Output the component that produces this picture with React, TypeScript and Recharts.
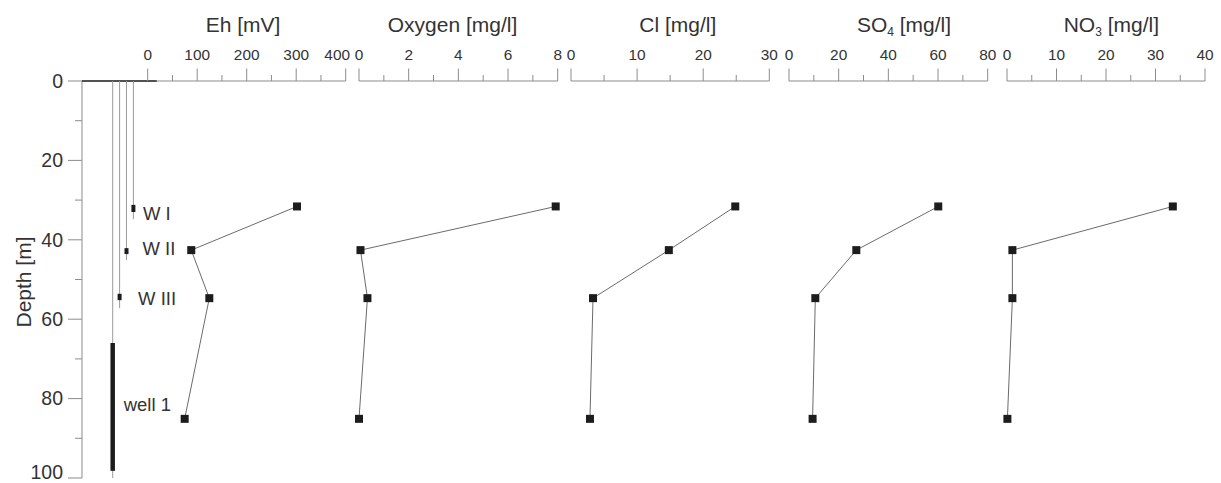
import { ScatterChart, Scatter, XAxis, YAxis } from "recharts";

const FONT = "'Liberation Sans', Arial, sans-serif";
const AXIS_GRAY = "#8c8c8c";
const TEXT = "#333";
const LINE_GRAY = "#6a6a6a";
const MARK = "#1c1c1c";

// sampling depths [m]: W I, W II, W III, well 1
const depths = [31.6, 42.6, 54.7, 85.1];
const ehValues = [301.6, 88, 124.5, 74.7];
const oxygenValues = [7.92, 0.06, 0.34, 0.0];
const clValues = [24.85, 14.8, 3.33, 2.87];
const so4Values = [60.1, 27.1, 10.6, 9.5];
const no3Values = [33.5, 1.09, 1.09, 0.08];

const depthTicks = [0, 10, 20, 30, 40, 50, 60, 70, 80, 90, 100];
const ehTicks = [0, 50, 100, 150, 200, 250, 300, 350, 400];
const oxygenTicks = [0, 1, 2, 3, 4, 5, 6, 7, 8];
const clTicks = [0, 5, 10, 15, 20, 25, 30];
const so4Ticks = [0, 10, 20, 30, 40, 50, 60, 70, 80];
const no3Ticks = [0, 5, 10, 15, 20, 25, 30, 35, 40];

// well sketch: W I, W II, W III, well 1
const wellNames = ["W I", "W II", "W III", "well 1"];
const wellSlots = [3, 2, 1, 0];
const wellBottoms = [34.8, 45.1, 57.2, 100];
const filterTops = [31.2, 42.1, 53.6, 66];
const filterBottoms = [33.0, 43.6, 55.2, 98.2];
const groundSurface = [-4.45, 6.38];

// label offsets next to the filters (px)
const labelDx = [9.5, 16, 18.5, 11];
const labelDy = [4.6, -3, 1.4, -2];

const rows = (values: number[]) => values.map((v, i) => ({ v, d: depths[i] }));

const CHART_H = 483;
const AXIS_H = 81;
const PAD = 15;

const DepthTick = (props: any) => {
	const { x, y, payload } = props;
	const major = payload.value % 20 === 0;
	// the last label is nudged up so it stays inside the picture
	const shift = payload.value === 100 ? -6 : 0;
	return (
		<g>
			<line x1={x - (major ? 14 : 7)} x2={x} y1={y} y2={y} stroke={AXIS_GRAY} />
			{major && (
				<text x={x - 19} y={y + shift} dy="0.35em" textAnchor="end" fontSize={19.5} fill={TEXT} fontFamily={FONT}>
					{payload.value}
				</text>
			)}
		</g>
	);
};

const topTick = (majorStep: number, lastShift = 0, last = Infinity) => (props: any) => {
	const { x, y, payload } = props;
	const major = Math.abs(payload.value % majorStep) < 1e-9;
	const dx = payload.value === last ? lastShift : 0;
	return (
		<g>
			<line x1={x} x2={x} y1={y} y2={y - (major ? 12.5 : 6)} stroke={AXIS_GRAY} />
			{major && (
				<text x={x + dx} y={y - 21} textAnchor="middle" fontSize={15.4} fill={TEXT} fontFamily={FONT}>
					{payload.value}
				</text>
			)}
		</g>
	);
};

const titleLabel = (x: number, main: string, sub?: string) => () => (
	<text x={x} y={32} textAnchor="middle" fontSize={21} fill={TEXT} fontFamily={FONT}>
		<tspan>{main}</tspan>
		{sub && (
			<tspan fontSize={12} dy={4}>
				{sub}
			</tspan>
		)}
		<tspan dy={sub ? -4 : 0}> [{main === "Eh" ? "mV" : "mg/l"}]</tspan>
	</text>
);

const NoShape = () => <g />;

const WellLabel = (props: any) => {
	const { cx, cy, index } = props;
	return (
		<text x={cx + labelDx[index]} y={cy + labelDy[index]} dy="0.35em" fontSize={18.5} fill={TEXT} fontFamily={FONT}>
			{wellNames[index]}
		</text>
	);
};

function EhChart() {
	const axisStart = 147.7;
	const axisEnd = 345.7;
	const plotLeft = 82;
	const ehMin = -((axisStart - plotLeft) * 400) / (axisEnd - axisStart);
	return (
		<div style={{ position: "absolute", left: 0, top: 0 }}>
			<ScatterChart
				width={axisEnd + PAD}
				height={CHART_H}
				margin={{ top: 0, right: PAD, bottom: 5, left: 0 }}
			>
				<XAxis
					xAxisId="eh"
					dataKey="v"
					type="number"
					orientation="top"
					height={AXIS_H}
					domain={[ehMin, 400]}
					ticks={ehTicks}
					interval={0}
					tickSize={0}
					tickMargin={0}
					tickLine={false}
					axisLine={{ stroke: AXIS_GRAY }}
					tick={topTick(100, -8.5, 400)}
					label={titleLabel(243, "Eh")}
				/>
				<XAxis xAxisId="well" dataKey="w" type="number" hide domain={[-4.45, 33.77]} />
				<YAxis
					dataKey="d"
					type="number"
					width={plotLeft}
					domain={[0, 100]}
					reversed
					ticks={depthTicks}
					interval={0}
					tickSize={0}
					tickMargin={0}
					tickLine={false}
					axisLine={{ stroke: AXIS_GRAY }}
					tick={DepthTick}
					label={() => (
						<text
							x={24}
							y={282}
							transform="rotate(-90 24 282)"
							textAnchor="middle"
							dy="0.35em"
							fontSize={21}
							fill={TEXT}
							fontFamily={FONT}
						>
							Depth [m]
						</text>
					)}
				/>
				<Scatter
					xAxisId="well"
					data={groundSurface.map((w) => ({ w, d: 0 }))}
					shape={NoShape}
					line={{ stroke: "#2a2a2a", strokeWidth: 1.5 }}
					isAnimationActive={false}
				/>
				{wellSlots.map((w, i) => (
					<Scatter
						key={`casing-${i}`}
						xAxisId="well"
						data={[
							{ w, d: 0 },
							{ w, d: wellBottoms[i] },
						]}
						shape={NoShape}
						line={{ stroke: "#9a9a9a", strokeWidth: 1 }}
						isAnimationActive={false}
					/>
				))}
				{wellSlots.map((w, i) => (
					<Scatter
						key={`filter-${i}`}
						xAxisId="well"
						data={[
							{ w, d: filterTops[i] },
							{ w, d: filterBottoms[i] },
						]}
						shape={NoShape}
						line={{ stroke: MARK, strokeWidth: i === 3 ? 4.5 : 4 }}
						isAnimationActive={false}
					/>
				))}
				<Scatter
					xAxisId="well"
					data={wellSlots.map((w, i) => ({ w, d: (filterTops[i] + filterBottoms[i]) / 2 }))}
					shape={WellLabel}
					isAnimationActive={false}
				/>
				<Scatter
					xAxisId="eh"
					data={rows(ehValues)}
					shape="square"
					fill={MARK}
					line={{ stroke: LINE_GRAY, strokeWidth: 1 }}
					isAnimationActive={false}
				/>
			</ScatterChart>
		</div>
	);
}

interface PanelProps {
	axisStart: number;
	axisEnd: number;
	max: number;
	ticks: number[];
	majorStep: number;
	titleX: number;
	main: string;
	sub?: string;
	values: number[];
}

function Panel({ axisStart, axisEnd, max, ticks, majorStep, titleX, main, sub, values }: PanelProps) {
	const left = axisStart - PAD;
	return (
		<div style={{ position: "absolute", left, top: 0 }}>
			<ScatterChart
				width={axisEnd - axisStart + 2 * PAD}
				height={CHART_H}
				margin={{ top: 0, right: PAD, bottom: 5, left: PAD }}
			>
				<XAxis
					dataKey="v"
					type="number"
					orientation="top"
					height={AXIS_H}
					domain={[0, max]}
					ticks={ticks}
					interval={0}
					tickSize={0}
					tickMargin={0}
					tickLine={false}
					axisLine={{ stroke: AXIS_GRAY }}
					tick={topTick(majorStep)}
					label={titleLabel(titleX - left, main, sub)}
				/>
				<YAxis dataKey="d" type="number" hide domain={[0, 100]} reversed />
				<Scatter
					data={rows(values)}
					shape="square"
					fill={MARK}
					line={{ stroke: LINE_GRAY, strokeWidth: 1 }}
					isAnimationActive={false}
				/>
			</ScatterChart>
		</div>
	);
}

export default function App() {
	return (
		<div
			style={{
				position: "absolute",
				left: 0,
				top: 0,
				width: 1221,
				height: 483,
				background: "#fff",
				overflow: "hidden",
			}}
		>
			<EhChart />
			<Panel axisStart={359.3} axisEnd={558} max={8} ticks={oxygenTicks} majorStep={2} titleX={452.8} main="Oxygen" values={oxygenValues} />
			<Panel axisStart={570.7} axisEnd={769} max={30} ticks={clTicks} majorStep={10} titleX={677.5} main="Cl" values={clValues} />
			<Panel axisStart={789} axisEnd={987.7} max={80} ticks={so4Ticks} majorStep={20} titleX={904} main="SO" sub="4" values={so4Values} />
			<Panel axisStart={1007.3} axisEnd={1205.3} max={40} ticks={no3Ticks} majorStep={10} titleX={1111.7} main="NO" sub="3" values={no3Values} />
		</div>
	);
}
